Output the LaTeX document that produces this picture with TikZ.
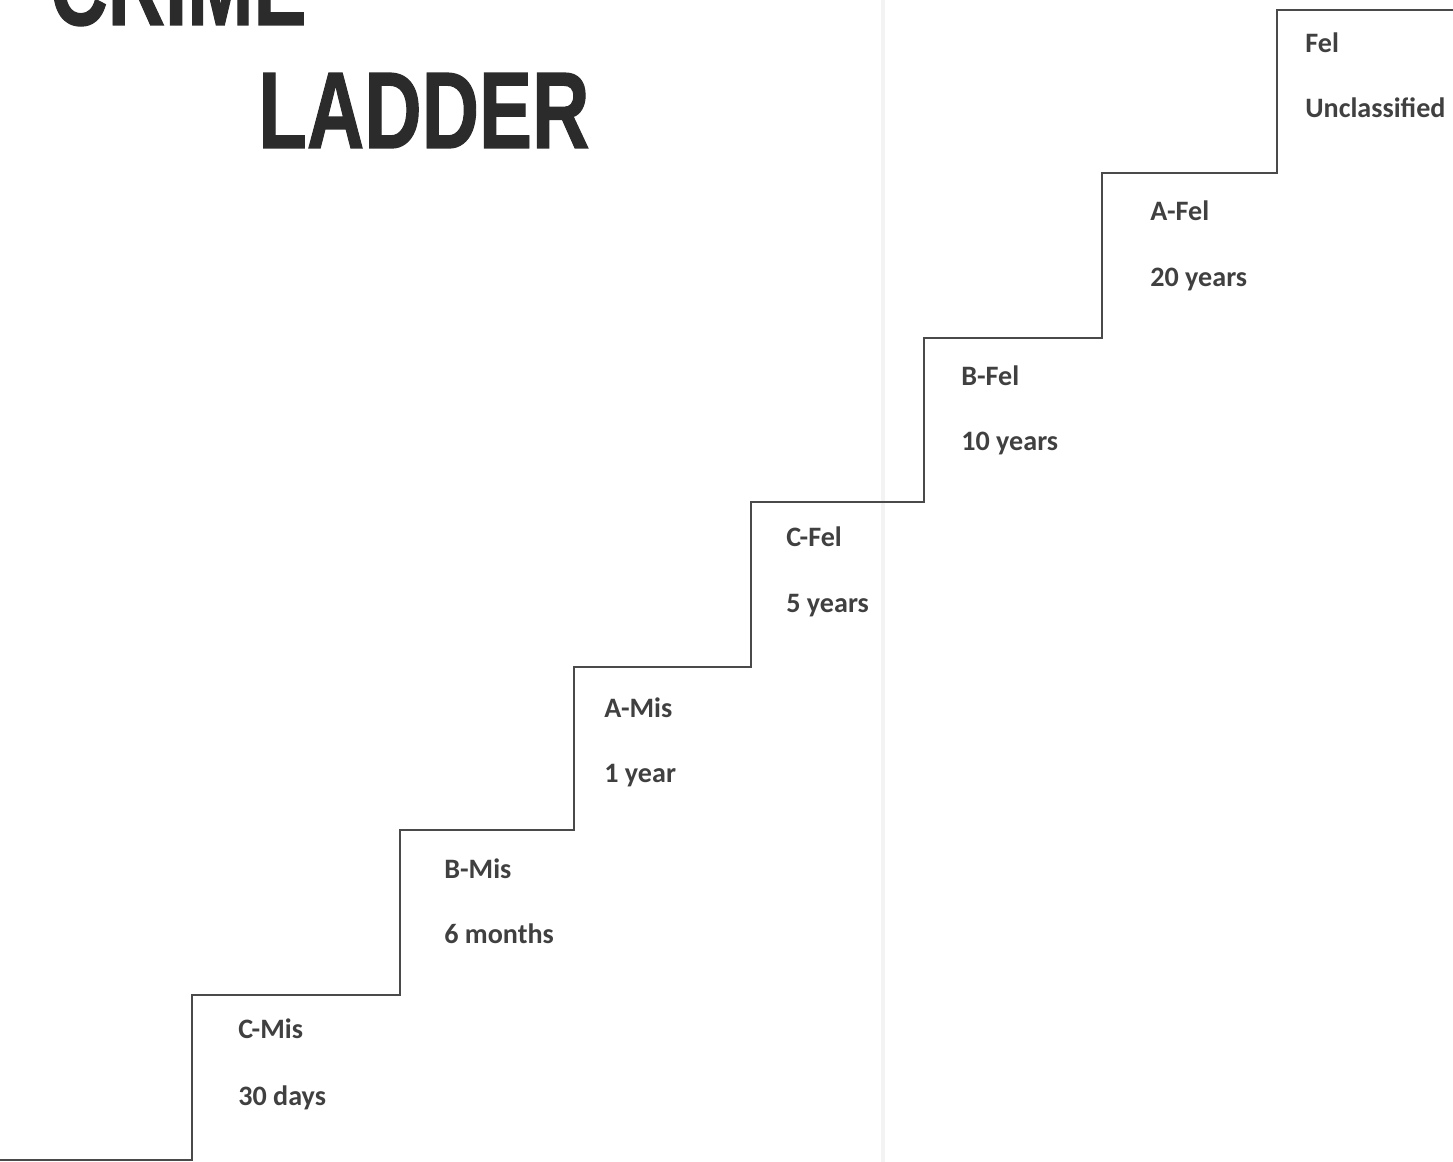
\documentclass[tikz,border=0pt]{standalone}
\usepackage{fontspec}
\setmainfont{Carlito}
\newfontfamily\titlefont[BoldFeatures={FakeBold=1.2}]{Liberation Sans}
\usepackage{xcolor}
\usetikzlibrary{positioning}
\definecolor{mInk}{HTML}{404040}
\definecolor{mStair}{HTML}{4A4A4A}
\definecolor{mTitle}{HTML}{2B2B2B}
\definecolor{mFold}{HTML}{F3F3F3}
\tikzset{
  rungtext/.style={anchor=base west, inner sep=0pt, font=\fontsize{16}{18}\selectfont\bfseries, text=mInk},
  titletext/.style={anchor=base west, inner sep=0pt, xscale=0.73, font=\titlefont\fontsize{62}{66}\selectfont\bfseries, text=mTitle}
}
\newcommand{\rung}[4]{%
 \node[rungtext] (#1) at (#2,#3) {#4};}
\begin{document}
\begin{tikzpicture}[x=0.02cm, y=-0.02cm]
\useasboundingbox (0,0) rectangle (1453,1162);
\clip (0,0) rectangle (1453,1162);
\fill[mFold] (881,0) rectangle (885,1162);
\node[titletext] (crime) at (50,25) {CRIME};
\node[titletext] (ladder) at (258,148) {LADDER};
\draw[mStair, line width=1.1pt] (0,1160) -- (192,1160) -- (192,995) -- (400,995)
  -- (400,830) -- (574,830) -- (574,667) -- (751,667) -- (751,502) -- (924,502)
  -- (924,338) -- (1102,338) -- (1102,173) -- (1277,173) -- (1277,10) -- (1453,10);
\rung{cmis}{238}{1038}{C-Mis}
\rung{cmisT}{238}{1105}{30 days}
\rung{bmis}{444}{878}{B-Mis}
\rung{bmisT}{444}{943}{6 months}
\rung{amis}{604}{717}{A-Mis}
\rung{amisT}{604}{782}{1 year}
\rung{cfel}{786}{546}{C-Fel}
\rung{cfelT}{786}{612}{5 years}
\rung{bfel}{961}{385}{B-Fel}
\rung{bfelT}{961}{450}{10 years}
\rung{afel}{1150}{220}{A-Fel}
\rung{afelT}{1150}{286}{20 years}
\rung{fel}{1305}{53}{Fel}
\rung{felT}{1305}{118}{Unclassified}
\end{tikzpicture}
\end{document}
